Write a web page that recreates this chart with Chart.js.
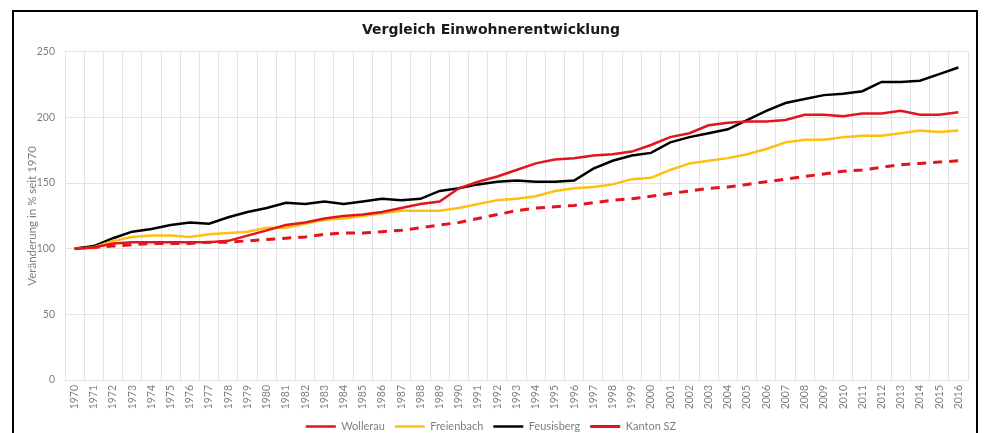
<!DOCTYPE html>
<html>
<head>
<meta charset="utf-8">
<script src="https://cdn.jsdelivr.net/npm/chart.js@4"></script>
<style>
  html, body { margin: 0; padding: 0; background: #fff; overflow: hidden; }
  #frame {
    position: absolute; left: 12px; top: 10px;
    width: 966px; height: 440px;
    border: 2px solid #000; box-sizing: border-box;
  }
  #chart { position: absolute; left: 14px; top: 12px; }
</style>
</head>
<body>
<div id="frame"></div>
<canvas id="chart" width="964" height="430"></canvas>
<script>
// years on the x axis
const years = [];
for (let y = 1970; y <= 2016; y++) years.push(String(y));

// population index, 1970 = 100
const wollerau = [100, 101, 104, 105, 105, 105, 105, 105, 106, 110,
  114, 118, 120, 123, 125, 126, 128, 131, 134, 136,
  146, 151, 155, 160, 165, 168, 169, 171, 172, 174,
  179, 185, 188, 194, 196, 197, 197, 198, 202, 202,
  201, 203, 203, 205, 202, 202, 204];
const freienbach = [100, 101, 106, 109, 110, 110, 109, 111, 112, 113,
  116, 116, 119, 122, 123, 125, 127, 129, 129, 129,
  131, 134, 137, 138, 140, 144, 146, 147, 149, 153,
  154, 160, 165, 167, 169, 172, 176, 181, 183, 183,
  185, 186, 186, 188, 190, 189, 190];
const feusisberg = [100, 102, 108, 113, 115, 118, 120, 119, 124, 128,
  131, 135, 134, 136, 134, 136, 138, 137, 138, 144,
  146, 149, 151, 152, 151, 151, 152, 161, 167, 171,
  173, 181, 185, 188, 191, 198, 205, 211, 214, 217,
  218, 220, 227, 227, 228, 233, 238];
const kantonSZ = [100, 101, 102, 103, 104, 104, 104, 105, 105, 106,
  107, 108, 109, 111, 112, 112, 113, 114, 116, 118,
  120, 123, 126, 129, 131, 132, 133, 135, 137, 138,
  140, 142, 144, 146, 147, 149, 151, 153, 155, 157,
  159, 160, 162, 164, 165, 166, 167];

const yTicks = [0, 50, 100, 150, 200, 250];

const gray = "#7f7f7f";
const gridColor = "#e3e3e3";
const font = "Lato, 'Noto Sans', sans-serif";

function line(label, data, color, dash) {
  return {
    label: label,
    data: data,
    borderColor: color,
    backgroundColor: color,
    borderWidth: dash ? 3 : 2.5,
    borderDash: dash || [],
    pointRadius: 0,
    tension: 0,
    fill: false,
  };
}

new Chart(document.getElementById("chart"), {
  type: "line",
  data: {
    labels: years,
    datasets: [
      line("Wollerau", wollerau, "#e2141e"),
      line("Freienbach", freienbach, "#ffbf10"),
      line("Feusisberg", feusisberg, "#000000"),
      line("Kanton SZ", kantonSZ, "#e2141e", [9, 7]),
    ],
  },
  options: {
    responsive: false,
    animation: false,
    devicePixelRatio: 1,
    layout: { padding: { left: 0, right: 10, top: 0, bottom: 0 } },
    plugins: {
      title: {
        display: true,
        text: "Vergleich Einwohnerentwicklung",
        color: "#1a1a1a",
        font: { family: "'DejaVu Sans', sans-serif", size: 14, weight: "bold" },
        padding: { top: 10, bottom: 13 },
      },
      legend: {
        position: "bottom",
        labels: {
          color: gray,
          font: { family: font, size: 11 },
          usePointStyle: true,
          pointStyle: "line",
          pointStyleWidth: 30,
          padding: 10,
        },
      },
      tooltip: { enabled: false },
    },
    scales: {
      x: {
        offset: true,
        grid: { offset: true, color: gridColor, drawTicks: false },
        border: { color: gridColor },
        ticks: {
          color: gray,
          font: { family: font, size: 10.5 },
          minRotation: 90,
          maxRotation: 90,
          autoSkip: false,
          padding: 5,
        },
        afterFit: (scale) => { scale.height = 31; },
      },
      y: {
        min: yTicks[0],
        max: yTicks[yTicks.length - 1],
        afterBuildTicks: (scale) => {
          scale.ticks = yTicks.map((v) => ({ value: v }));
        },
        grid: { color: gridColor, drawTicks: false },
        border: { display: false },
        ticks: {
          color: gray,
          font: { family: font, size: 10.5 },
          padding: 10,
        },
        title: {
          display: true,
          text: "Veränderung in % seit 1970",
          color: gray,
          font: { family: font, size: 11.5 },
          padding: { top: 11, bottom: 0 },
        },
        afterFit: (scale) => { scale.width = 51; },
      },
    },
  },
});
</script>
</body>
</html>
